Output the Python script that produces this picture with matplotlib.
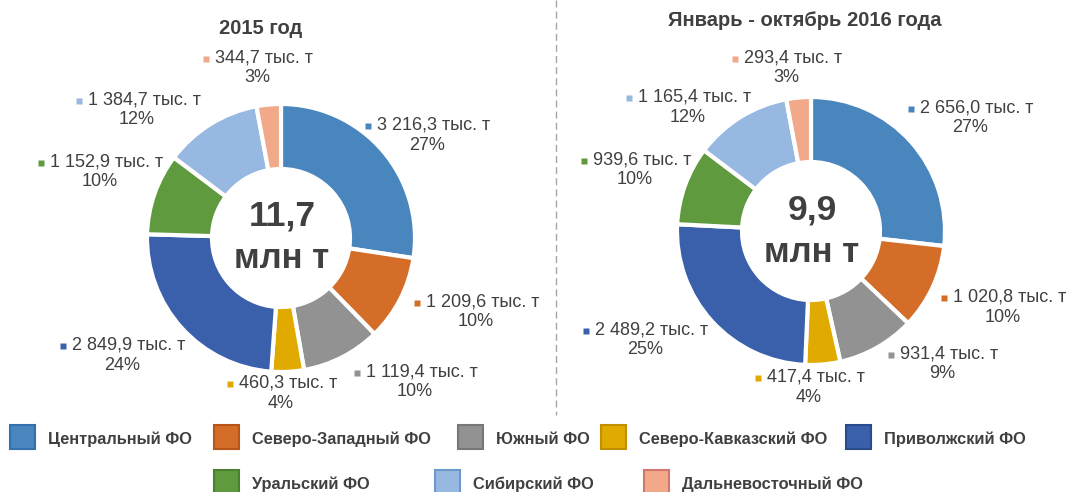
import matplotlib.pyplot as plt
from matplotlib.patches import Rectangle

W, H = 1067, 492

regions = ['Центральный ФО', 'Северо-Западный ФО', 'Южный ФО',
           'Северо-Кавказский ФО', 'Приволжский ФО', 'Уральский ФО',
           'Сибирский ФО', 'Дальневосточный ФО']
colors = ['#4A86BE', '#D46D27', '#929292', '#E1AA00',
          '#3A60AB', '#5F9A3E', '#97B8E0', '#F1A98A']
edge_colors = ['#3470AD', '#B8561A', '#777777', '#C09000',
               '#2A4A8E', '#4C8030', '#6E98CC', '#D07870']

values_2015 = [3216.3, 1209.6, 1119.4, 460.3, 2849.9, 1152.9, 1384.7, 344.7]
values_2016 = [2656.0, 1020.8, 931.4, 417.4, 2489.2, 939.6, 1165.4, 293.4]
pct_2015 = ['27%', '10%', '10%', '4%', '24%', '10%', '12%', '3%']
pct_2016 = ['27%', '10%', '9%', '4%', '25%', '10%', '12%', '3%']
titles = ['2015 год', 'Январь - октябрь 2016 года']

TXT = '#404040'
FONT = 'Liberation Sans'


def fy(y):
    # pixel row (from top) -> data y
    return H - y


def fmt_value(v):
    return f'{v:,.1f}'.replace(',', ' ').replace('.', ',') + ' тыс. т'


def fmt_total(vals):
    return f'{sum(vals) / 1000:.1f}'.replace('.', ',')


fig = plt.figure(figsize=(W / 100, H / 100), dpi=100)
ax = fig.add_axes([0, 0, 1, 1])

donuts = [
    dict(vals=values_2015, pct=pct_2015, center=(281, 238),
         title_pos=(261, 28), total_y=(216, 259),
         label_pos=[(427, 135), (476, 312), (415, 382), (281, 393),
                    (122, 355), (100, 172), (137, 110), (257, 68)]),
    dict(vals=values_2016, pct=pct_2016, center=(811, 231),
         title_pos=(805, 20), total_y=(210, 252),
         label_pos=[(970, 118), (1003, 307), (942, 364), (809, 387),
                    (645, 340), (635, 170), (688, 107), (786, 68)]),
]

value_texts = []
for d, title in zip(donuts, titles):
    cx, cy = d['center']
    ax.pie(d['vals'], colors=colors, startangle=90, counterclock=False,
           radius=134, center=(cx, fy(cy)),
           wedgeprops=dict(width=65, edgecolor='white', linewidth=3))
    tx, ty = d['title_pos']
    ax.text(tx, fy(ty), title, ha='center', va='center', fontsize=14.5,
            fontweight='bold', color=TXT, family=FONT)
    ax.text(cx + 1, fy(d['total_y'][0]), fmt_total(d['vals']),
            ha='center', va='center', fontsize=25.5, fontweight='bold',
            color=TXT, family=FONT)
    ax.text(cx + 1, fy(d['total_y'][1]), 'млн т', ha='center',
            va='center', fontsize=25, fontweight='bold', color=TXT,
            family=FONT)
    for v, p, (lx, ly), c in zip(d['vals'], d['pct'], d['label_pos'], colors):
        t = ax.text(lx + 7, fy(ly - 10), fmt_value(v), ha='center',
                    va='center', fontsize=13, color=TXT, family=FONT)
        ax.text(lx, fy(ly + 10), p, ha='center', va='center',
                fontsize=13, color=TXT, family=FONT)
        value_texts.append((t, c))

# dashed separator
ax.plot([556, 556], [fy(0), fy(415)], color='#A6A6A6', lw=1,
        linestyle=(0, (5, 3)))

# legend
legend_rows = [(425, [10, 214, 458, 601, 846]), (470, [214, 435, 644])]
k = 0
for top, xs in legend_rows:
    for x in xs:
        ax.add_patch(Rectangle((x, fy(top + 24)), 25, 24,
                               facecolor=colors[k], edgecolor=edge_colors[k],
                               lw=1.5))
        ax.text(x + 38, fy(top + 14), regions[k], ha='left', va='center',
                fontsize=11.8, fontweight='bold', color=TXT, family=FONT)
        k += 1

ax.set_xlim(0, W)
ax.set_ylim(0, H)
ax.set_aspect('equal')
ax.axis('off')

# small square markers in front of each value label
fig.canvas.draw()
renderer = fig.canvas.get_renderer()
for t, c in value_texts:
    bb = t.get_window_extent(renderer)
    ax.plot(bb.x0 - 9, (bb.y0 + bb.y1) / 2 - 1, marker='s', ms=4.5,
            color=c, mec='none')

fig.savefig('out.png', dpi=100)
